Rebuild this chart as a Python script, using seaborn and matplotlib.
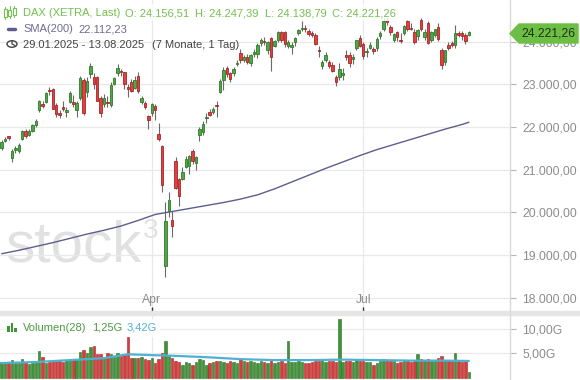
import numpy as np
import pandas as pd
import matplotlib
matplotlib.use("Agg")
import matplotlib.pyplot as plt
import seaborn as sns
from matplotlib.patches import Rectangle, Polygon, Circle
from matplotlib.lines import Line2D

# --- Daten (DAX, XETRA, 29.01.2025 - 13.08.2025) ---
dates = pd.bdate_range("2025-01-29", "2025-08-13")
dates = dates[~dates.isin(pd.to_datetime(["2025-04-18", "2025-04-21", "2025-05-01"]))]

opens = [
    21520, 21680, 21780, 21280, 21470, 21430, 21727, 21914, 21820, 21914,
    22054, 22404, 22545, 22591, 22872, 22895, 22521, 22334, 22474, 22358,
    22591, 22591, 22404, 22685, 23105, 22825, 23245, 23175, 23175, 22685,
    22545, 22591, 22521, 23012, 23269, 23310, 23292, 22942, 23059, 22918,
    23199, 22591, 22568, 22264, 22334, 22498, 21844, 21564, 18737, 20022,
    19811, 21213, 20793, 20793, 21073, 21096, 21447, 21166, 21804, 21891,
    22218, 22358, 22358, 22521, 22825, 23105, 23385, 23269, 23269, 23480,
    23736, 23580, 23640, 23500, 23700, 23700, 23960, 24000, 23800, 24086,
    23900, 24050, 24226, 24226, 23900, 23880, 24000, 24200, 24300, 24320,
    24250, 24200, 24150, 23800, 23420, 23560, 23520, 23450, 23180, 23170,
    23220, 23680, 23690, 23600, 23850, 24080, 23950, 23760, 23860, 23820,
    23850, 24133, 24296, 24508, 24343, 24039, 24226, 24030, 24203, 24484,
    24330, 24226, 24133, 24508, 24110, 24437, 24039, 24157, 24343, 23806,
    23525, 23923, 23970, 23923, 24204, 24204, 24157, 24156.51,
]
highs = [
    21700, 21760, 21800, 21480, 21560, 21620, 21940, 21950, 21950, 22080,
    22180, 22640, 22620, 22830, 22935, 22920, 22560, 22410, 22600, 22470,
    22840, 22740, 22600, 23200, 23140, 23170, 23500, 23270, 23200, 22720,
    22770, 22720, 23050, 23170, 23476, 23350, 23300, 23000, 23120, 23200,
    23300, 22720, 22600, 22280, 22560, 22540, 22100, 21570, 20250, 20480,
    20020, 21300, 20800, 21060, 21330, 21340, 21480, 21320, 22000, 22150,
    22330, 22420, 22470, 22610, 23130, 23400, 23420, 23300, 23400, 23560,
    23830, 23680, 23700, 23720, 23820, 23960, 24080, 24120, 24020, 24110,
    24050, 24240, 24260, 24250, 24030, 23990, 24110, 24300, 24479, 24400,
    24300, 24260, 24200, 23900, 23580, 23750, 23580, 23520, 23220, 23500,
    23380, 23800, 23750, 23700, 24050, 24150, 24000, 23850, 24000, 23880,
    24100, 24250, 24560, 24560, 24400, 24200, 24250, 24200, 24400, 24500,
    24440, 24290, 24300, 24560, 24300, 24480, 24250, 24300, 24444, 23850,
    23800, 24000, 24020, 24390, 24250, 24260, 24200, 24247.39,
]
lows = [
    21450, 21640, 21700, 21170, 21400, 21380, 21700, 21750, 21780, 21880,
    22000, 22350, 22450, 22560, 22760, 22420, 22230, 22200, 22380, 22230,
    22560, 22480, 22230, 22640, 22280, 22700, 23150, 22880, 22600, 22230,
    22480, 22470, 22480, 22980, 23200, 23190, 22900, 22700, 22830, 22880,
    22800, 22550, 22420, 21960, 22270, 22170, 21680, 20470, 18489, 19900,
    19415, 20550, 20150, 20750, 21040, 20900, 21140, 21000, 21680, 21820,
    22100, 22250, 22300, 22240, 22800, 22870, 23180, 23050, 23200, 23440,
    23500, 23520, 23480, 23440, 23650, 23620, 23900, 23930, 23700, 23316,
    23880, 24000, 24000, 23880, 23850, 23700, 23900, 24150, 24250, 24230,
    24130, 24100, 23920, 23650, 23350, 23520, 23390, 23300, 22950, 23100,
    23100, 23580, 23400, 23480, 23800, 23880, 23600, 23650, 23820, 23720,
    23780, 24060, 24250, 24400, 24150, 23990, 24020, 23970, 24150, 24250,
    24280, 23950, 24050, 24250, 24050, 23950, 24000, 24100, 24020, 23350,
    23450, 23800, 23880, 23860, 24100, 24050, 23950, 24138.79,
]
closes = [
    21640, 21727, 21732, 21428, 21505, 21585, 21902, 21787, 21914, 22054,
    22148, 22615, 22498, 22798, 22844, 22433, 22314, 22287, 22425, 22410,
    22795, 22551, 22568, 23147, 22327, 23081, 23419, 23009, 22620, 22328,
    22676, 22567, 22986, 23154, 23380, 23288, 22999, 22892, 22852, 23109,
    22839, 22678, 22461, 22163, 22539, 22390, 21717, 20641, 19789, 20280,
    19670, 20563, 20374, 20954, 21254, 21311, 21205, 21294, 21961, 22064,
    22242, 22271, 22426, 22497, 23087, 23345, 23249, 23116, 23352, 23499,
    23566, 23638, 23527, 23695, 23767, 23934, 24036, 23999, 23999, 23630,
    24028, 24226, 24039, 23945, 23997, 23930, 24091, 24276, 24324, 24304,
    24175, 24162, 23948, 23771, 23516, 23699, 23434, 23317, 23057, 23350,
    23269, 23641, 23498, 23649, 24033, 23910, 23673, 23790, 23934, 23787,
    24074, 24206, 24480, 24456, 24226, 24180, 24100, 24009, 24367, 24296,
    24307, 24000, 24274, 24296, 24226, 23970, 24226, 24296, 24063, 23455,
    23806, 23853, 23924, 24204, 24157, 24133, 24017, 24221.26,
]
# Volumen in Mrd. (G)
volumes = [
    3.3, 3.1, 3.3, 3.6, 3.0, 3.0, 3.9, 3.3, 2.9, 3.0,
    3.3, 5.4, 4.3, 3.0, 3.3, 3.7, 3.7, 3.5, 3.3, 3.7,
    3.7, 3.8, 3.8, 5.2, 5.7, 5.0, 6.3, 6.6, 4.8, 4.8,
    4.3, 5.0, 4.8, 4.3, 5.0, 4.4, 4.8, 8.4, 4.0, 4.0,
    4.0, 4.2, 3.9, 3.7, 4.0, 3.0, 3.8, 5.0, 7.5, 4.5,
    4.0, 3.5, 3.2, 2.6, 3.2, 3.0, 2.6, 3.2, 3.8, 3.6,
    2.5, 3.0, 3.2, 3.4, 3.5, 3.3, 3.0, 3.5, 3.3, 3.0,
    3.8, 3.4, 3.2, 3.5, 3.3, 3.0, 3.4, 3.2, 3.0, 3.6,
    3.0, 3.3, 3.4, 3.1, 7.5, 3.2, 3.3, 3.5, 3.2, 3.0,
    3.1, 3.3, 3.4, 3.5, 3.6, 3.2, 3.5, 3.4, 3.3, 12.1,
    3.2, 3.5, 3.4, 3.3, 3.6, 3.5, 3.4, 3.3, 3.2, 2.6,
    3.1, 3.5, 3.9, 3.7, 3.5, 3.4, 3.0, 3.3, 3.6, 3.4,
    3.3, 3.5, 4.9, 3.9, 3.6, 3.8, 3.4, 3.6, 4.1, 4.4,
    3.6, 3.7, 3.5, 5.1, 3.4, 3.2, 3.5, 1.25,
]
sma_idx = [0, 5, 10, 15, 20, 25, 30, 35, 40, 45, 50, 55, 60, 65, 70,
           75, 80, 85, 90, 95, 100, 105, 110, 115, 120, 125, 130, 135, 137]
sma_val = [19030, 19110, 19200, 19290, 19390, 19490, 19580, 19680, 19810,
           19950, 20020, 20090, 20160, 20230, 20310, 20410, 20550, 20710,
           20870, 21030, 21180, 21330, 21470, 21590, 21710, 21830, 21950,
           22060, 22112.23]
# Volumen-Durchschnitt(28)
vma_idx = [0, 10, 20, 30, 37, 45, 50, 60, 70, 80, 90, 100, 110, 120, 130, 137]
vma_val = [3.0, 3.2, 3.6, 4.0, 4.8, 4.6, 4.5, 4.2, 3.8, 3.6, 3.6, 3.7,
           3.6, 3.5, 3.5, 3.42]

month_ticks = ["2025-04-01", "2025-07-01"]
month_labels = ["Apr", "Jul"]
price_ticks = [18000, 19000, 20000, 21000, 22000, 23000, 24000]
vol_ticks = [5, 10]


def de_num(v, dec=2):
    s = f"{v:,.{dec}f}"
    return s.replace(",", "X").replace(".", ",").replace("X", ".")


df = pd.DataFrame({"date": dates, "open": opens, "high": highs,
                   "low": lows, "close": closes, "vol": volumes})
df["i"] = np.arange(len(df))
df["up"] = df["close"] >= df["open"]

sns.set_theme(style="white")
plt.rcParams["font.family"] = ["Liberation Sans", "DejaVu Sans"]

W, H = 580, 380
fig = plt.figure(figsize=(W / 100, H / 100), dpi=100)
fig.patch.set_facecolor("white")


def fx(x):
    return x / W


def fy(y):
    return 1 - y / H


PLOT_R = 510
P_BOT = 311
V_TOP = 315
ax = fig.add_axes([0, fy(P_BOT), fx(PLOT_R), P_BOT / H])
axv = fig.add_axes([0, 0, fx(PLOT_R), (H - V_TOP) / H])

GREEN_F, GREEN_E = "#4fa845", "#2f7a2b"
RED_F, RED_E = "#df4141", "#a82626"
GRID = "#e9e9e9"
LABEL = "#8c8c8c"

xlim = (-0.5, (PLOT_R - 1.7) / 3.41)
month_pos = [int(df.index[df["date"] == pd.Timestamp(d)][0]) for d in month_ticks]

# --- Kurschart ---
ax.set_facecolor("white")
for p in month_pos:
    ax.axvline(p, color=GRID, lw=0.9, zorder=0)
ax.set_yticks(price_ticks)
ax.grid(axis="y", color=GRID, lw=0.9)
ax.set_axisbelow(True)

ax.text(5 / PLOT_R, (P_BOT - 262) / P_BOT, "stock", transform=ax.transAxes,
        fontsize=42, color="#e1e1e1", va="baseline", ha="left", zorder=0.5)
ax.text(143 / PLOT_R, (P_BOT - 238) / P_BOT, "3", transform=ax.transAxes,
        fontsize=20, color="#e1e1e1", va="baseline", ha="left", zorder=0.5)

ax.vlines(df["i"], df["low"], df["high"], color="#6a6a6a", lw=0.8, zorder=2)
body_lo = df[["open", "close"]].min(axis=1)
body_h = (df["close"] - df["open"]).abs().clip(lower=18)
ax.bar(df["i"], body_h, bottom=body_lo, width=0.72,
       color=np.where(df["up"], GREEN_F, RED_F),
       edgecolor=np.where(df["up"], GREEN_E, RED_E), linewidth=0.6, zorder=3)

sns.lineplot(x=sma_idx, y=sma_val, ax=ax, color="#5f5d8e", lw=1.0, zorder=2.5)

ax.set_xlim(*xlim)
ax.set_ylim(24000 - (P_BOT - 41.7) * 23.44, 24000 + 41.7 * 23.44)
ax.yaxis.tick_right()
ax.set_yticklabels([de_num(v) for v in price_ticks])
ax.tick_params(axis="y", colors=LABEL, length=4, width=0.8, pad=5, labelsize=8.7)
ax.tick_params(axis="y", which="both", color="#b5b5b5")
ax.set_xticks(month_pos)
ax.tick_params(axis="x", direction="in", length=3, width=1, color="#333333",
               labelbottom=False, bottom=True)
for p, lab in zip(month_pos, month_labels):
    ax.text(p, (P_BOT - 300) / P_BOT, lab, transform=ax.get_xaxis_transform(),
            ha="center", va="center", fontsize=8.7, color=LABEL)
ax.set_xlabel("")
ax.set_ylabel("")
for s in ax.spines.values():
    s.set_visible(False)

# --- Volumen ---
for p in month_pos:
    axv.axvline(p, color=GRID, lw=0.9, zorder=0)
axv.set_yticks(vol_ticks)
axv.grid(axis="y", color=GRID, lw=0.9)
axv.set_axisbelow(True)
axv.bar(df["i"], df["vol"], width=0.72,
        color=np.where(df["up"], "#3f9438", "#d93a3a"),
        edgecolor=np.where(df["up"], "#2c6e27", "#a52424"), linewidth=0.4, zorder=2)
sns.lineplot(x=vma_idx, y=vma_val, ax=axv, color="#4fb1d2", lw=1.6, zorder=3)
axv.set_xlim(*xlim)
axv.set_ylim(-(H - 377.6) / 4.86, (377.6 - V_TOP) / 4.86)
axv.yaxis.tick_right()
axv.set_yticklabels([de_num(v) + "G" for v in vol_ticks])
axv.tick_params(axis="y", colors=LABEL, length=4, width=0.8, pad=5, labelsize=8.7)
axv.tick_params(axis="y", color="#b5b5b5")
axv.set_xticks([])
axv.set_xlabel("")
axv.set_ylabel("")
for s in axv.spines.values():
    s.set_visible(False)

# --- Rahmen / Trenner ---
fig.add_artist(Rectangle((0, fy(V_TOP)), 1, (V_TOP - P_BOT) / H,
                         transform=fig.transFigure, color="#e6e6e6", zorder=1))
fig.add_artist(Line2D([fx(PLOT_R)] * 2, [0, 1], transform=fig.transFigure,
                      color="#dadada", lw=1, zorder=1))


def px_rect(x0, y0, w, h, **kw):
    fig.add_artist(Rectangle((fx(x0), fy(y0 + h)), w / W, h / H,
                             transform=fig.transFigure, **kw))


# --- Legende oben ---
HEAD_G = "#74c050"
px_rect(0, 4, 396, 17, color="white", alpha=0.8, lw=0, zorder=2)
for cx, top, bot, wt, wb in [(5, 9, 17, 7, 19), (9.5, 10, 16, 6, 18), (14, 8, 15, 6, 17)]:
    fig.add_artist(Line2D([fx(cx)] * 2, [fy(wt), fy(wb)], transform=fig.transFigure,
                          color=HEAD_G, lw=0.8, zorder=3))
    px_rect(cx - 1.5, top, 3, bot - top, facecolor="white", edgecolor=HEAD_G, lw=0.8, zorder=3)

head = [(23, "DAX (XETRA, Last)"), (125, "O: 24.156,51"), (195, "H: 24.247,39"),
        (265, "L: 24.138,79"), (332, "C: 24.221,26")]
for xp, t in head:
    fig.text(fx(xp), fy(13), t, color=HEAD_G, fontsize=8.0, va="center", ha="left", zorder=4)

fig.add_artist(Line2D([fx(8), fx(15)], [fy(29)] * 2, transform=fig.transFigure,
                      color="#5f5d8e", lw=2.5, zorder=3))
fig.text(fx(23), fy(29), "SMA(200)", color="#6e6c92", fontsize=8.0, va="center", zorder=4)
fig.text(fx(78), fy(29), "22.112,23", color="#6e6c92", fontsize=8.0, va="center", zorder=4)

fig.add_artist(Circle((fx(12), fy(44)), 5 / W, transform=fig.transFigure,
                      fill=False, ec="#444444", lw=1.0, zorder=3))
fig.add_artist(Line2D([fx(12), fx(12), fx(15)], [fy(40.5), fy(44), fy(45.5)],
                      transform=fig.transFigure, color="#444444", lw=0.9, zorder=3))
fig.text(fx(23), fy(44.5), "29.01.2025 - 13.08.2025", color="#444444",
         fontsize=8.0, va="center", zorder=4)
fig.text(fx(152), fy(44.5), "(7 Monate, 1 Tag)", color="#444444",
         fontsize=8.0, va="center", zorder=4)

# --- Volumen-Legende ---
px_rect(3, 319, 157, 18, color="white", alpha=0.85, lw=0, zorder=2)
for bx, bh in [(7, 6), (10.5, 9), (14, 4)]:
    px_rect(bx, 332 - bh, 2.5, bh, color="#3f9438", lw=0, zorder=3)
fig.text(fx(23), fy(328), "Volumen(28)", color="#4f9a45", fontsize=8.0, va="center", zorder=4)
fig.text(fx(92), fy(328), "1,25G", color="#4f9a45", fontsize=8.0, va="center", zorder=4)
fig.text(fx(127), fy(328), "3,42G", color="#4fb1d2", fontsize=8.0, va="center", zorder=4)

# --- letzter Kurs ---
last_poly = [(510, 33.5), (519, 24), (578, 24), (578, 43), (519, 43)]
fig.add_artist(Polygon([(fx(a), fy(b)) for a, b in last_poly], closed=True,
                       transform=fig.transFigure, color="#6dbe45", zorder=5))
fig.text(fx(548), fy(33.5), de_num(closes[-1]), color="#1b3312", fontsize=8.7,
         ha="center", va="center", zorder=6)

fig.savefig("out.png", dpi=100)
